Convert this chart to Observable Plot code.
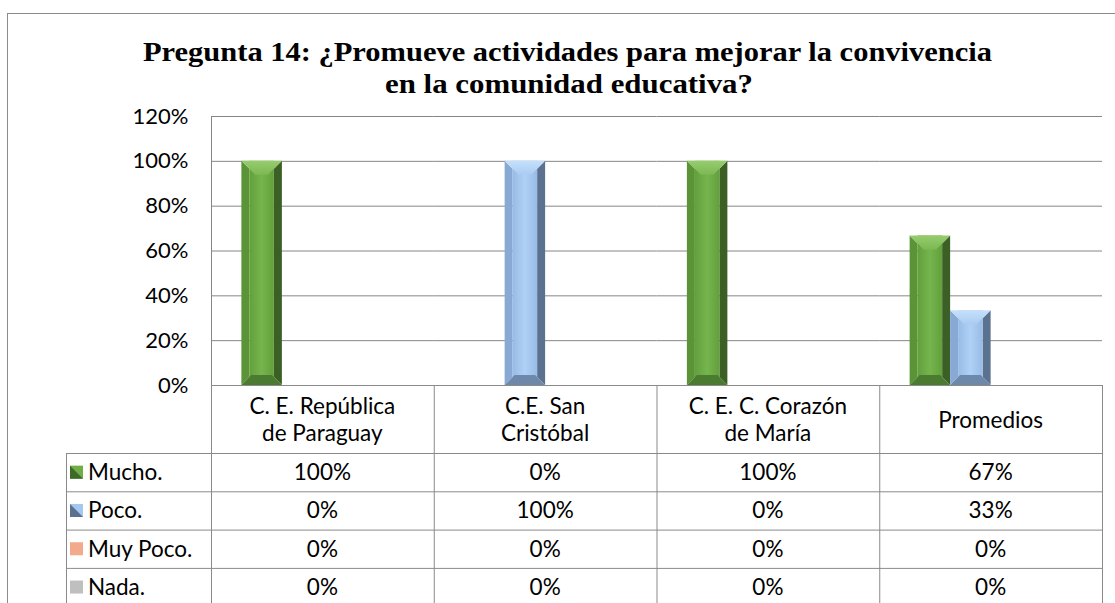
<!DOCTYPE html>
<html><head><meta charset="utf-8">
<script src="https://cdn.jsdelivr.net/npm/d3@7"></script>
<script src="https://cdn.jsdelivr.net/npm/@observablehq/plot@0.6"></script>
<style>
html,body{margin:0;padding:0;background:#fff;}
#wrap{position:relative;width:1115px;height:603px;overflow:hidden;font-family:Lato,"Open Sans",sans-serif;}
#frame{position:absolute;left:7px;top:13px;width:1300px;height:800px;border:1px solid #8c8c8c;box-sizing:border-box;}
#title,#chart,#table{position:absolute;left:0;top:0;}
#title text{font-family:"Liberation Serif","Times New Roman",Tinos,serif;font-weight:bold;}
</style></head><body>
<div id="wrap"><div id="frame"></div><svg id="title" width="1115" height="110"></svg><div id="chart"></div><svg id="table" width="1115" height="603"></svg></div>
<script>
// ---- data ----
const titleLines = ["Pregunta 14: ¿Promueve actividades para mejorar la convivencia", "en la comunidad educativa?"];
const categories = ["C. E. República\nde Paraguay", "C.E. San\nCristóbal", "C. E. C. Corazón\nde María", "Promedios"];
const series = ["Mucho.", "Poco.", "Muy Poco.", "Nada."];
const mucho   = [1, 0, 1, 0.667];
const poco    = [0, 1, 0, 0.333];
const muyPoco = [0, 0, 0, 0];
const nada    = [0, 0, 0, 0];
const yTicks = [0, 0.2, 0.4, 0.6, 0.8, 1, 1.2];
const seriesColors = ["#6aa443", "#9bbde6", "#f2a98c", "#bfbfbf"];

const values = [mucho, poco, muyPoco, nada];
const data = [];
categories.forEach((c, i) => series.forEach((s, j) => data.push({cat: c, s, v: values[j][i]})));
const pct = d3.format(".0%");

// ---- title ----
const tsvg = d3.select("#title");
const tl = [{x: 143, y: 61, len: 849}, {x: 385, y: 93, len: 368}];
titleLines.forEach((t, i) => {
  tsvg.append("text").attr("x", tl[i].x).attr("y", tl[i].y)
    .attr("textLength", tl[i].len).attr("lengthAdjust", "spacingAndGlyphs")
    .attr("font-size", 28).attr("fill", "#000").text(t);
});

// ---- chart ----
const chart = Plot.plot({
  width: 1115, height: 386,
  marginTop: 116, marginBottom: 1, marginLeft: 211, marginRight: 13,
  style: {fontFamily: "Lato, sans-serif", fontSize: "22px", color: "#000", background: "transparent", overflow: "visible"},
  fx: {domain: categories, padding: 0, axis: null, round: false},
  x: {domain: series, paddingInner: 0, paddingOuter: 0.75, axis: null, round: false},
  y: {domain: [0, 1.2], ticks: yTicks, tickFormat: pct, tickSize: 0, tickPadding: 23, label: null},
  color: {domain: series, range: seriesColors},
  marks: [
    Plot.ruleY(yTicks, {stroke: "#868686", strokeWidth: 1}),
    Plot.barY(data.filter(d => d.v > 0), {fx: "cat", x: "s", y: "v", fill: "s", inset: 0})
  ]
});
document.getElementById("chart").appendChild(chart);

const svg = d3.select(chart);
const ys = chart.scale("y");
// value axis line
svg.append("line").attr("x1", 211.5).attr("x2", 211.5)
  .attr("y1", ys.apply(1.2)).attr("y2", ys.apply(0)).attr("stroke", "#868686");

// bevel styling
const defs = svg.append("defs");
function grad(id, c0, c1) {
  const g = defs.append("linearGradient").attr("id", id).attr("x1", 0).attr("x2", 1).attr("y1", 0).attr("y2", 0);
  g.append("stop").attr("offset", "0%").attr("stop-color", c0);
  g.append("stop").attr("offset", "50%").attr("stop-color", c1);
  g.append("stop").attr("offset", "100%").attr("stop-color", c0);
}
function vgrad(id, c0, c1) {
  const g = defs.append("linearGradient").attr("id", id).attr("x1", 0).attr("x2", 0).attr("y1", 0).attr("y2", 1);
  g.append("stop").attr("offset", "0%").attr("stop-color", c0);
  g.append("stop").attr("offset", "100%").attr("stop-color", c1);
}
grad("gFront", "#62a03c", "#76b44e");
vgrad("gTop", "#96cd6d", "#7cb853");
grad("bFront", "#98bbe6", "#afd1f6");
vgrad("bTop", "#c5e0fb", "#aacbf1");
const pal = {
  "#6aa443": {left: "#5a9437", right: "#3c5f25", front: "url(#gFront)", top: "url(#gTop)", bottom: "#4b7a31"},
  "#9bbde6": {left: "#87a9d3", right: "#5a7190", front: "url(#bFront)", top: "url(#bTop)", bottom: "#6e88aa"}
};
svg.selectAll('g[aria-label="bar"] rect').each(function() {
  const r = d3.select(this);
  const p = pal[(r.attr("fill") || "").toLowerCase()];
  if (!p) return;
  const x = +r.attr("x"), y = +r.attr("y"), w = +r.attr("width"), h = +r.attr("height");
  const parent = d3.select(this.parentNode);
  const b = 8, t = Math.min(14, h / 3), bb = Math.min(10, h / 3);
  const poly = (pts, fill) => parent.append("polygon").attr("points", pts.map(q => q.join(",")).join(" ")).attr("fill", fill);
  poly([[x, y], [x + b, y + b], [x + b, y + h - b], [x, y + h]], p.left);
  poly([[x + w, y], [x + w - b, y + b], [x + w - b, y + h - b], [x + w, y + h]], p.right);
  parent.append("rect").attr("x", x + b).attr("y", y).attr("width", w - 2 * b).attr("height", h).attr("fill", p.front);
  poly([[x, y], [x + w, y], [x + w - t, y + t], [x + t, y + t]], p.top);
  poly([[x, y + h], [x + w, y + h], [x + w - bb, y + h - bb], [x + bb, y + h - bb]], p.bottom);
  r.attr("fill", "none");
});

// ---- data table ----
const fx = chart.scale("fx");
const bw = fx.bandwidth;
const colLeft = categories.map(c => fx.apply(c));
const plotLeft = colLeft[0], plotRight = colLeft[3] + bw;
const tableLeft = 66, top0 = ys.apply(0), headerH = 68, rowH = 38.3;
const tb = d3.select("#table");
const lineC = "#8a8a8a";
const hl = (x1, x2, y) => tb.append("line").attr("x1", x1).attr("x2", x2).attr("y1", y + 0.5).attr("y2", y + 0.5).attr("stroke", lineC);
const vl = (x, y1, y2) => tb.append("line").attr("x1", x + 0.5).attr("x2", x + 0.5).attr("y1", y1).attr("y2", y2).attr("stroke", lineC);
const rowTop = i => top0 + headerH + i * rowH;
hl(plotLeft, plotRight, top0);
for (let i = 0; i <= series.length; i++) hl(tableLeft, plotRight, rowTop(i));
vl(tableLeft, rowTop(0), 620);
colLeft.forEach(x => vl(x, top0, 620));
vl(plotRight, top0, 620);

const txt = (x, y, s, anchor) => tb.append("text").attr("x", x).attr("y", y).attr("dy", "0.35em")
  .attr("text-anchor", anchor || "middle").attr("font-family", "Lato, sans-serif").attr("font-size", 22.5).attr("fill", "#000").text(s);
categories.forEach((c, i) => {
  const lines = c.split("\n");
  const cx = colLeft[i] + bw / 2;
  const mid = top0 + headerH / 2 + 1;
  lines.forEach((l, k) => txt(cx, mid + (k - (lines.length - 1) / 2) * 27, l));
});
series.forEach((s, j) => {
  const cy = rowTop(j) + rowH / 2;
  const key = tb.append("g");
  if (j < 2) {
    const dark = j === 0 ? "#3e6a29" : "#5a7190";
    const light = j === 0 ? "#6fae47" : "#a5c8f1";
    key.append("rect").attr("x", 70).attr("y", cy - 6.5).attr("width", 13).attr("height", 13).attr("fill", light);
    key.append("polygon").attr("points", `70,${cy - 6.5} 70,${cy + 6.5} 83,${cy + 6.5}`).attr("fill", dark);
  } else {
    key.append("rect").attr("x", 70).attr("y", cy - 6.5).attr("width", 13).attr("height", 13).attr("fill", seriesColors[j]);
  }
  txt(88, cy, s, "start");
  categories.forEach((c, i) => txt(colLeft[i] + bw / 2, cy, pct(values[j][i])));
});
</script></body></html>
